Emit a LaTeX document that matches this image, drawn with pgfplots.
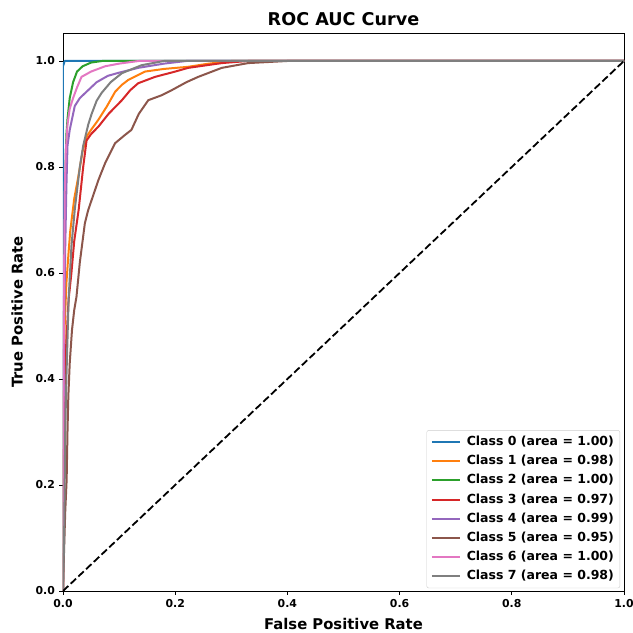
\documentclass[border=0pt]{standalone}
\usepackage{pgfplots}
\pgfplotsset{compat=1.18}
\usepackage{fontspec}
\setmainfont{DejaVu Sans}
\definecolor{c0}{HTML}{1F77B4}
\definecolor{c1}{HTML}{FF7F0E}
\definecolor{c2}{HTML}{2CA02C}
\definecolor{c3}{HTML}{D62728}
\definecolor{c4}{HTML}{9467BD}
\definecolor{c5}{HTML}{8C564B}
\definecolor{c6}{HTML}{E377C2}
\definecolor{c7}{HTML}{7F7F7F}
\begin{document}
\begin{tikzpicture}
\begin{axis}[
  name=ax,
  scale only axis,
  width=561bp, height=558bp,
  xmin=0, xmax=1, ymin=0, ymax=1.0528,
  xtick={0,0.2,0.4,0.6,0.8,1.0},
  ytick={0,0.2,0.4,0.6,0.8,1.0},
  xticklabels={0.0,0.2,0.4,0.6,0.8,1.0},
  yticklabels={0.0,0.2,0.4,0.6,0.8,1.0},
  tick align=outside,
  tick pos=left,
  major tick length=3.6bp,
  every tick/.style={black, line width=0.8bp},
  axis line style={line width=0.8bp},
  /pgf/number format/assume math mode=true,
  tick label style={font=\bfseries\fontsize{10.9bp}{12bp}\selectfont},
  xticklabel style={yshift=-1bp},
  yticklabel style={xshift=-1bp},
  title={ROC AUC Curve},
  title style={font=\bfseries\fontsize{17.6bp}{20bp}\selectfont, yshift=-2.5bp},
  xlabel={False Positive Rate},
  ylabel={True Positive Rate},
  label style={font=\bfseries\fontsize{14.8bp}{17bp}\selectfont},
  xlabel style={yshift=-4bp},
  ylabel style={yshift=6bp},
  legend cell align=left,
  legend style={at={(0.993,0.005)}, anchor=south east,
    font=\bfseries\fontsize{12.5bp}{14bp}\selectfont,
    draw={rgb,255:red,204;green,204;blue,204}, rounded corners=2bp,
    fill=white, fill opacity=0.8, text opacity=1,
    inner xsep=4bp, inner ysep=2bp,
    nodes={inner ysep=3.6bp, text height=9.5bp, text depth=2.5bp},
    /tikz/every odd column/.append style={column sep=4bp}},
  legend image code/.code={\draw[#1] (0bp,0bp) -- (28bp,0bp);},
  every axis plot/.append style={line width=2bp, line join=round},
]
\addplot[c0] coordinates {(0,0) (0,0.99) (0.003,1) (1,1)};
\addlegendentry{Class 0 (area = 1.00)}
\addplot[c1] coordinates {(0,0) (0.001,0.3) (0.003,0.5) (0.006,0.58) (0.01,0.64) (0.013,0.68) (0.02,0.74) (0.027,0.78) (0.035,0.83) (0.042,0.857) (0.05,0.87) (0.063,0.889) (0.078,0.914) (0.093,0.942) (0.105,0.955) (0.116,0.964) (0.146,0.98) (0.18,0.985) (0.223,0.989) (0.26,0.995) (0.3,1) (1,1)};
\addlegendentry{Class 1 (area = 0.98)}
\addplot[c2] coordinates {(0,0) (0.001,0.45) (0.003,0.65) (0.004,0.75) (0.005,0.82) (0.006,0.86) (0.008,0.89) (0.012,0.93) (0.018,0.96) (0.025,0.98) (0.035,0.99) (0.05,0.997) (0.07,1) (1,1)};
\addlegendentry{Class 2 (area = 1.00)}
\addplot[c3] coordinates {(0,0) (0.002,0.3) (0.005,0.45) (0.01,0.55) (0.015,0.6) (0.02,0.66) (0.028,0.72) (0.033,0.77) (0.036,0.8) (0.042,0.85) (0.05,0.862) (0.063,0.876) (0.081,0.9) (0.105,0.926) (0.12,0.945) (0.134,0.958) (0.164,0.97) (0.2,0.98) (0.223,0.987) (0.283,0.996) (0.33,1) (1,1)};
\addlegendentry{Class 3 (area = 0.97)}
\addplot[c4] coordinates {(0,0) (0.001,0.3) (0.002,0.5) (0.004,0.65) (0.006,0.76) (0.008,0.84) (0.012,0.87) (0.021,0.915) (0.03,0.93) (0.045,0.945) (0.06,0.96) (0.08,0.972) (0.1,0.978) (0.134,0.987) (0.18,0.995) (0.22,1) (1,1)};
\addlegendentry{Class 4 (area = 0.99)}
\addplot[c5] coordinates {(0,0) (0.002,0.08) (0.004,0.15) (0.0065,0.21) (0.008,0.3) (0.0095,0.367) (0.012,0.43) (0.016,0.492) (0.02,0.53) (0.024,0.555) (0.03,0.62) (0.039,0.694) (0.045,0.719) (0.055,0.75) (0.063,0.775) (0.075,0.807) (0.093,0.845) (0.11,0.86) (0.122,0.87) (0.135,0.9) (0.152,0.926) (0.175,0.935) (0.194,0.945) (0.22,0.96) (0.241,0.97) (0.283,0.987) (0.33,0.996) (0.4,1) (1,1)};
\addlegendentry{Class 5 (area = 0.95)}
\addplot[c6] coordinates {(0,0) (0.001,0.4) (0.002,0.6) (0.003,0.75) (0.005,0.83) (0.008,0.88) (0.012,0.91) (0.018,0.93) (0.025,0.95) (0.033,0.97) (0.05,0.98) (0.075,0.99) (0.1,0.995) (0.135,1) (1,1)};
\addlegendentry{Class 6 (area = 1.00)}
\addplot[c7] coordinates {(0,0) (0.002,0.1) (0.004,0.3) (0.006,0.4) (0.01,0.55) (0.015,0.65) (0.021,0.72) (0.03,0.8) (0.036,0.84) (0.045,0.88) (0.051,0.9) (0.06,0.925) (0.069,0.94) (0.085,0.96) (0.105,0.977) (0.14,0.992) (0.18,1) (1,1)};
\addlegendentry{Class 7 (area = 0.98)}
\addplot[black, line width=1.8bp, dash pattern=on 7.4bp off 3.2bp, forget plot] coordinates {(0,0) (1,1)};
\end{axis}
\pgfresetboundingbox
\path[use as bounding box] (-63bp,-42bp) rectangle (570bp,591bp);
\end{tikzpicture}
\end{document}
